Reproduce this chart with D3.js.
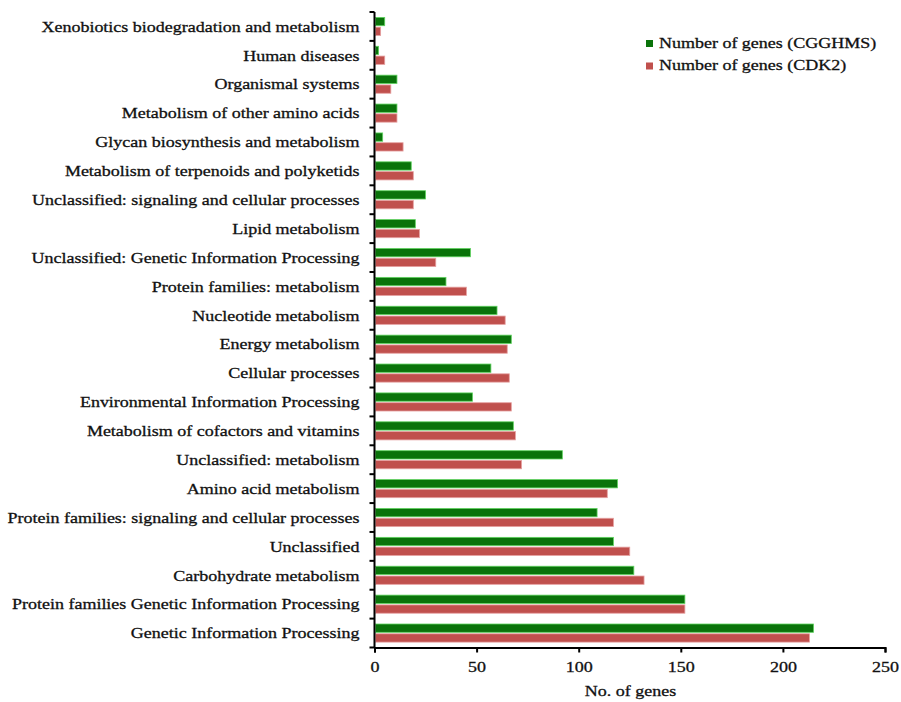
<!DOCTYPE html>
<html><head><meta charset="utf-8">
<script src="https://cdn.jsdelivr.net/npm/d3@7"></script>
<style>body{margin:0;background:#fff}svg{display:block}text{font-family:"Liberation Serif","Times New Roman",serif;fill:#111;stroke:#111;stroke-width:0.3px}</style>
</head><body><svg id="c" width="901" height="702"></svg>
<script>
const categories = [
 "Xenobiotics biodegradation and metabolism","Human diseases","Organismal systems",
 "Metabolism of other amino acids","Glycan biosynthesis and metabolism",
 "Metabolism of terpenoids and polyketids","Unclassified: signaling and cellular processes",
 "Lipid metabolism","Unclassified: Genetic Information Processing","Protein families: metabolism",
 "Nucleotide metabolism","Energy metabolism","Cellular processes","Environmental Information Processing",
 "Metabolism of cofactors and vitamins","Unclassified: metabolism","Amino acid metabolism",
 "Protein families: signaling and cellular processes","Unclassified","Carbohydrate metabolism",
 "Protein families Genetic Information Processing","Genetic Information Processing"];
const cgghms = [5,2,11,11,4,18,25,20,47,35,60,67,57,48,68,92,119,109,117,127,152,215];
const cdk2   = [3,5,8,11,14,19,19,22,30,45,64,65,66,67,69,72,114,117,125,132,152,213];
const seriesNames = ["Number of genes (CGGHMS)","Number of genes (CDK2)"];
const xTicks = [0,50,100,150,200,250];

const SX = 1.2; // horizontal text stretch seen in the reference
const svg = d3.select("#c");
const m = {l:374.5, r:885, t:12, b:647.5};
const x = d3.scaleLinear().domain([0,250]).range([m.l,m.r]);
const y = d3.scaleBand().domain(categories).range([m.t,m.b]);
const inner = d3.scaleBand().domain([0,1]).range([0,y.bandwidth()]).paddingInner(0.05).paddingOuter(0.5);
const fills = ["#0a730a","#c0504d"], strokes=["#5fd35f","#e5a0a0"];

const series=[cgghms,cdk2];
series.forEach((vals,si)=>{
  svg.append("g").selectAll("rect").data(categories).join("rect")
   .attr("x",x(0)+1).attr("y",(d)=>y(d)+inner(si)+0.5)
   .attr("width",(d,i)=>Math.max(0,x(vals[i])-x(0)-1)).attr("height",inner.bandwidth()-1)
   .attr("fill",fills[si]).attr("stroke",strokes[si]).attr("stroke-width",0.8);
});

// y axis
const ya = svg.append("g").attr("transform",`translate(${m.l},0)`);
ya.append("line").attr("x1",0).attr("x2",0).attr("y1",m.t).attr("y2",m.b).attr("stroke","#000").attr("stroke-width",2);
const bounds = categories.map(c=>y(c)).concat([m.b]);
ya.selectAll("line.t").data(bounds).join("line").attr("class","t")
  .attr("x1",-5).attr("x2",0).attr("y1",d=>d).attr("y2",d=>d).attr("stroke","#000").attr("stroke-width",2);
ya.selectAll("text").data(categories).join("text")
  .attr("transform",d=>`translate(-15,${y(d)+y.bandwidth()/2}) scale(${SX},1)`).attr("dy","0.35em")
  .attr("text-anchor","end").attr("font-size","15px").text(d=>d);

// x axis
const xa = svg.append("g").attr("transform",`translate(0,${m.b})`)
  .call(d3.axisBottom(x).tickValues(xTicks).tickSize(5).tickPadding(9).tickFormat(d3.format("d")));
xa.select(".domain").attr("stroke","#000").attr("stroke-width",2);
xa.selectAll(".tick line").attr("stroke","#000").attr("stroke-width",2);
xa.selectAll(".tick text").attr("font-size","15px").attr("font-family","Liberation Serif").attr("fill","#111")
  .attr("transform",`scale(${SX},1)`);

svg.append("text").attr("transform",`translate(630.5,696) scale(${SX},1)`).attr("text-anchor","middle").attr("font-size","15px").text("No. of genes");

// legend
const lg = svg.append("g");
seriesNames.forEach((n,i)=>{
  lg.append("rect").attr("x",646).attr("y",40+i*22.5).attr("width",7).attr("height",7).attr("fill",fills[i]);
  lg.append("text").attr("transform",`translate(659,${47.5+i*22.5}) scale(${SX},1)`).attr("font-size","15px").text(n);
});
</script></body></html>
